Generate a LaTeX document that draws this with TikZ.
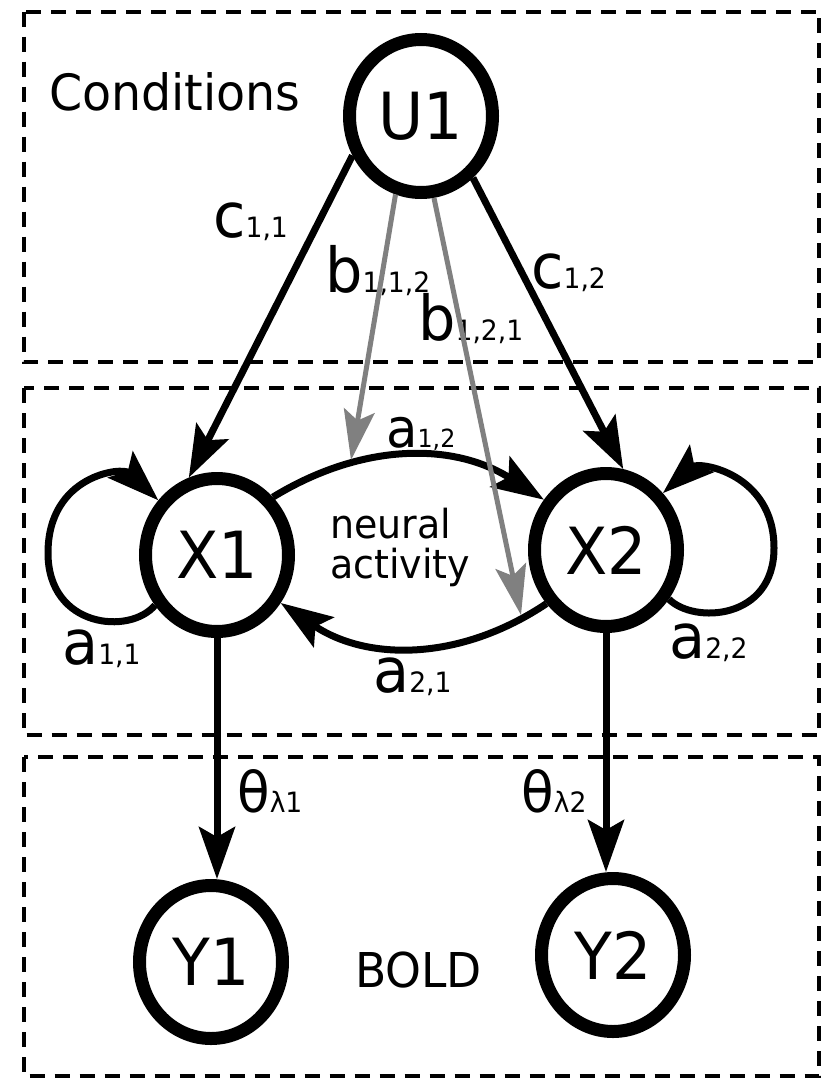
\documentclass[tikz,border=0pt]{standalone}
\usepackage{fontspec}
\setmainfont{DejaVu Sans}[FakeStretch=0.95]
\usetikzlibrary{shapes.geometric,arrows.meta}

\definecolor{modgray}{RGB}{128,128,128}
\newcommand\lsize[1]{\fontsize{#1}{#1}\selectfont}
% coefficient label: big letter followed by a small index on the same baseline
\newcommand\coef[2]{{\lsize{62}#1}{\lsize{28}#2}}

\begin{document}
\begin{tikzpicture}[x=1pt,y=-1pt,
  state/.style={draw, ellipse, line width=13pt, minimum width=143pt,
    minimum height=153pt, inner sep=0pt, font=\lsize{65}},
  region/.style={draw, line width=4pt, dash pattern=on 15pt off 10pt},
  link/.style={line width=7pt, -{Stealth[length=52pt,width=36pt,inset=10pt]}},
  modlink/.style={line width=5pt, draw=modgray,
    -{Stealth[length=50pt,width=31pt,inset=10pt]}},
  lbl/.style={anchor=base west, inner sep=0pt}]

\fill[white] (0,0) rectangle (823,1079);
\useasboundingbox (0,0) rectangle (823,1079);

% the three regions
\draw[region] (23.5,11.5) rectangle (819,362);
\draw[region] (23.5,388) rectangle (819,735);
\draw[region] (23.5,757) rectangle (819,1076);

% states
\node[state] (U1) at (421,116) {U1};
\node[state] (X1) at (217,555) {X1};
\node[state] (X2) at (606,550) {X2};
\node[state] (Y1) at (211,962) {Y1};
\node[state] (Y2) at (613,955) {Y2};

% region captions
\node[lbl, font=\lsize{50}] (cond) at (49,110) {Conditions};
\node[anchor=west, inner sep=0pt, align=left, font=\lsize{40}] (neural)
  at (330,547) {neural\\activity};
\node[lbl, font=\lsize{48}] (bold) at (355,987) {BOLD};

% coefficient labels
\node[lbl] (c11) at (213,237) {\coef{c}{1,1}};
\node[lbl] (b112) at (325,292) {\coef{b}{1,1,2}};
\node[lbl] (b121) at (418,340) {\coef{b}{1,2,1}};
\node[lbl] (c12) at (531,288) {\coef{c}{1,2}};
\node[lbl] (a12) at (386,447) {{\lsize{54}a}{\lsize{25}1,2}};
\node[lbl] (a11) at (62,664) {\coef{a}{1,1}};
\node[lbl] (a21) at (373,692) {\coef{a}{2,1}};
\node[lbl] (a22) at (669,658) {\coef{a}{2,2}};
\node[lbl] (t1) at (237,812) {{\lsize{56}θ}{\lsize{28}λ1}};
\node[lbl] (t2) at (521,812) {{\lsize{56}θ}{\lsize{28}λ2}};

% driving inputs
\draw[link] (U1.210) -- (X1.110);
\draw[link] (U1.310) -- (X2.78);

% intrinsic coupling between the two regions
\draw[link] (X1.46) to[bend left=32] (X2.141);
\draw[link] (X2.222) to[bend left=34] (X1.323);

% self connections, each loop passing through its outermost point
\coordinate (l1) at (48,553);
\coordinate (l2) at (774,548);
\draw[link] (X1.219) .. controls +(-25,30) and +(0,75) .. (l1)
  .. controls +(0,-78) and +(-36,-34) .. (X1.137);
\draw[link] (X2.322) .. controls +(25,25) and +(0,72) .. (l2)
  .. controls +(0,-75) and +(36,-32) .. (X2.45);

% hemodynamic outputs
\draw[link] (X1.south) -- (X1.south |- Y1.north);
\draw[link] (X2.south) -- (X2.south |- Y2.north);

% modulatory inputs acting on the couplings
\coordinate (m12) at (351,460);
\coordinate (m21) at (521,615);
\draw[modlink] (U1.252) -- (m12);
\draw[modlink] (U1.279) -- (m21);
\end{tikzpicture}
\end{document}
